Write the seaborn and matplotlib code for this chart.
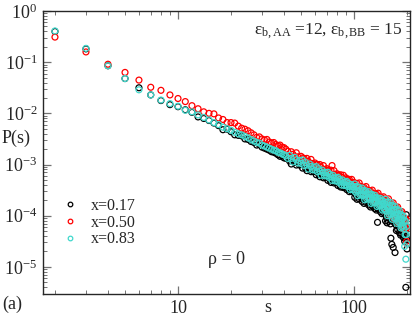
import numpy as np
import pandas as pd
import matplotlib
matplotlib.use("Agg")
import matplotlib.pyplot as plt
import matplotlib.ticker as mticker
from matplotlib.lines import Line2D
import seaborn as sns

# cluster size s
s_vals = list(range(2, 201))

# log10 P(s), s = 2..200
logp_017 = [
    -0.40, -0.74, -1.07, -1.32, -1.50, -1.64, -1.75, -1.83, -1.87, -1.93,
    -1.98, -2.07, -2.10, -2.14, -2.19, -2.24, -2.32, -2.31, -2.36, -2.42,
    -2.43, -2.44, -2.50, -2.51, -2.55, -2.57, -2.62, -2.61, -2.66, -2.68,
    -2.70, -2.72, -2.75, -2.76, -2.78, -2.81, -2.84, -2.83, -2.87, -2.88,
    -2.85, -2.93, -2.99, -2.91, -2.96, -3.01, -2.92, -3.01, -2.99, -3.07,
    -2.99, -3.07, -3.12, -3.05, -3.09, -3.14, -3.05, -3.14, -3.12, -3.20,
    -3.11, -3.19, -3.24, -3.17, -3.21, -3.26, -3.17, -3.25, -3.23, -3.31,
    -3.22, -3.30, -3.35, -3.27, -3.31, -3.36, -3.27, -3.35, -3.33, -3.41,
    -3.32, -3.40, -3.44, -3.36, -3.40, -3.45, -3.36, -3.43, -3.41, -3.49,
    -3.40, -3.48, -3.53, -3.45, -3.49, -3.53, -3.44, -3.52, -3.52, -3.64,
    -3.49, -3.60, -3.68, -3.54, -3.60, -3.67, -3.51, -3.64, -3.60, -3.72,
    -3.56, -3.68, -3.76, -3.62, -3.67, -3.74, -3.59, -3.71, -3.67, -3.79,
    -3.63, -3.75, -3.83, -3.69, -3.74, -3.81, -3.66, -3.78, -3.74, -3.86,
    -3.70, -3.82, -3.89, -3.75, -4.13, -3.87, -3.72, -3.84, -3.80, -3.92,
    -3.76, -3.88, -3.96, -3.82, -3.87, -3.94, -3.79, -3.91, -3.92, -4.10,
    -3.86, -4.04, -4.14, -3.93, -4.01, -4.11, -3.87, -4.05, -3.98, -4.16,
    -4.44, -4.10, -4.56, -4.00, -4.08, -4.62, -3.94, -4.13, -4.06, -4.72,
    -4.00, -4.18, -4.29, -4.08, -4.16, -4.27, -4.02, -4.21, -4.14, -4.33,
    -4.09, -4.27, -4.38, -4.17, -4.25, -4.36, -4.12, -4.31, -4.24, -4.43,
    -4.20, -4.39, -4.50, -4.30, -4.39, -5.40, -3.98, -4.46, -4.65,
]

logp_050 = [
    -0.51, -0.80, -1.04, -1.20, -1.35, -1.49, -1.55, -1.64, -1.71, -1.77,
    -1.85, -1.91, -1.97, -2.00, -2.01, -2.09, -2.12, -2.18, -2.18, -2.19,
    -2.25, -2.29, -2.31, -2.34, -2.38, -2.42, -2.47, -2.46, -2.50, -2.52,
    -2.51, -2.56, -2.58, -2.57, -2.61, -2.63, -2.62, -2.66, -2.67, -2.70,
    -2.74, -2.82, -2.75, -2.80, -2.85, -2.77, -2.85, -2.92, -2.84, -2.87,
    -2.88, -2.96, -2.88, -2.94, -2.98, -2.90, -2.98, -3.05, -2.97, -3.00,
    -3.00, -3.08, -3.00, -3.06, -3.10, -3.02, -3.10, -3.16, -3.08, -3.11,
    -3.11, -3.19, -3.11, -3.02, -3.20, -3.12, -3.20, -3.26, -3.18, -3.21,
    -3.21, -3.29, -3.20, -3.25, -3.29, -3.21, -3.29, -3.34, -3.26, -3.29,
    -3.29, -3.37, -3.29, -3.34, -3.38, -3.29, -3.37, -3.43, -3.35, -3.39,
    -3.39, -3.50, -3.37, -3.44, -3.50, -3.36, -3.48, -3.57, -3.43, -3.47,
    -3.46, -3.58, -3.45, -3.52, -3.57, -3.43, -3.56, -3.64, -3.50, -3.54,
    -3.53, -3.65, -3.52, -3.59, -3.64, -3.50, -3.63, -3.71, -3.57, -3.61,
    -3.60, -3.72, -3.58, -3.65, -3.71, -3.56, -3.69, -3.77, -3.63, -3.67,
    -3.66, -3.78, -3.65, -3.72, -3.77, -3.63, -3.76, -3.84, -3.71, -3.76,
    -3.74, -3.92, -3.70, -3.81, -3.89, -3.67, -3.85, -3.98, -3.77, -3.82,
    -3.81, -3.99, -3.77, -3.88, -3.96, -3.75, -3.93, -4.06, -3.85, -3.90,
    -3.89, -4.07, -3.85, -3.96, -4.04, -3.83, -4.01, -4.14, -3.93, -3.99,
    -3.97, -4.16, -3.94, -4.05, -4.14, -3.92, -4.11, -4.24, -4.03, -4.09,
    -4.08, -4.27, -4.06, -4.18, -4.27, -4.06, -4.25, -4.50, -4.55,
]

logp_083 = [
    -0.39, -0.73, -1.07, -1.32, -1.54, -1.64, -1.74, -1.81, -1.86, -1.94,
    -1.97, -2.03, -2.08, -2.13, -2.18, -2.22, -2.27, -2.30, -2.33, -2.37,
    -2.40, -2.42, -2.45, -2.48, -2.51, -2.54, -2.57, -2.58, -2.62, -2.64,
    -2.66, -2.68, -2.70, -2.72, -2.73, -2.76, -2.77, -2.79, -2.81, -2.83,
    -2.88, -2.82, -2.88, -2.95, -2.86, -2.91, -2.97, -2.92, -2.98, -2.91,
    -3.02, -2.96, -3.01, -3.09, -2.99, -3.04, -3.10, -3.05, -3.11, -3.04,
    -3.14, -3.08, -3.13, -3.21, -3.11, -3.16, -3.22, -3.16, -3.22, -3.15,
    -3.25, -3.19, -3.24, -3.31, -3.21, -3.26, -3.32, -3.26, -3.32, -3.25,
    -3.35, -3.29, -3.33, -3.40, -3.30, -3.35, -3.41, -3.34, -3.40, -3.33,
    -3.43, -3.37, -3.42, -3.49, -3.39, -3.43, -3.49, -3.43, -3.50, -3.38,
    -3.54, -3.43, -3.50, -3.61, -3.44, -3.51, -3.59, -3.49, -3.58, -3.46,
    -3.61, -3.51, -3.58, -3.69, -3.51, -3.58, -3.67, -3.56, -3.65, -3.53,
    -3.68, -3.58, -3.65, -3.76, -3.58, -3.65, -3.74, -3.63, -3.72, -3.60,
    -3.75, -3.65, -3.71, -3.82, -3.65, -3.71, -3.80, -3.69, -3.78, -3.66,
    -3.81, -3.71, -3.78, -3.89, -3.71, -3.78, -3.87, -3.76, -3.87, -3.68,
    -3.91, -3.74, -3.84, -4.00, -3.73, -3.84, -3.97, -3.80, -3.93, -3.74,
    -3.97, -3.80, -3.91, -4.07, -3.80, -3.91, -4.04, -3.88, -4.01, -3.82,
    -4.05, -3.88, -3.99, -4.15, -3.88, -3.99, -4.12, -3.96, -4.09, -3.90,
    -4.14, -3.97, -4.08, -4.24, -3.98, -4.09, -4.22, -4.06, -4.19, -4.01,
    -4.25, -4.09, -4.60, -4.37, -4.11, -4.85, -4.37, -4.21, -4.55,
]

series_labels = ["x=0.17", "x=0.50", "x=0.83"]
series_colors = ["#000000", "#ff0000", "#40d8cc"]
series_logp = [logp_017, logp_050, logp_083]

sns.set_style("ticks")
plt.rcParams["font.family"] = ["Liberation Serif", "DejaVu Serif"]
plt.rcParams["mathtext.fontset"] = "custom"
plt.rcParams["mathtext.rm"] = "Liberation Serif"
plt.rcParams["mathtext.it"] = "Liberation Serif:italic"
plt.rcParams["mathtext.bf"] = "Liberation Serif:bold"
plt.rcParams["axes.unicode_minus"] = False

fig = plt.figure(figsize=(4.15, 3.17), dpi=100)
ax = fig.add_axes([43 / 415, 1 - 294 / 317, (410 - 43) / 415, (294 - 11) / 317])

frames = []
for lab, lp in zip(series_labels, series_logp):
    frames.append(pd.DataFrame({"s": s_vals, "P": np.power(10.0, lp), "x": lab}))
df = pd.concat(frames, ignore_index=True)

for lab, col in zip(series_labels, series_colors):
    sub = df[df["x"] == lab]
    sns.scatterplot(data=sub, x="s", y="P", ax=ax, marker="o", s=18,
                    facecolor="none", edgecolor=col, linewidth=0.9,
                    legend=False, zorder=3)

ax.set_xscale("log")
ax.set_yscale("log")
ax.set_xlim(1.71, 208)
ax.set_ylim(10 ** -5.53, 1.0)
ax.set_xlabel("")
ax.set_ylabel("")

ax.xaxis.set_major_locator(mticker.FixedLocator([10, 100]))
ax.xaxis.set_major_formatter(mticker.FuncFormatter(lambda v, p: f"{int(round(v))}"))
ax.xaxis.set_minor_locator(mticker.LogLocator(base=10, subs=np.arange(2, 10), numticks=20))
ax.xaxis.set_minor_formatter(mticker.NullFormatter())
ax.yaxis.set_major_locator(mticker.LogLocator(base=10, numticks=20))
ax.yaxis.set_major_formatter(mticker.LogFormatterSciNotation())
ax.yaxis.set_minor_locator(mticker.LogLocator(base=10, subs=np.arange(2, 10), numticks=20))
ax.yaxis.set_minor_formatter(mticker.NullFormatter())

ax.tick_params(which="both", direction="in", top=True, right=True, color="0.45")
ax.tick_params(which="major", length=6, width=0.9, labelsize=13, pad=4)
ax.tick_params(which="minor", length=3, width=0.7)
for sp in ax.spines.values():
    sp.set_color("0.15")
    sp.set_linewidth(1.0)

handles = [Line2D([], [], linestyle="none", marker="o", markersize=3.3,
                  markerfacecolor="none", markeredgecolor=c, markeredgewidth=0.9)
           for c in series_colors]
ax.legend(handles, series_labels, loc="upper left", bbox_to_anchor=(0.057, 0.34),
          frameon=False, fontsize=11.5, handlelength=0.8, handletextpad=0.9,
          labelspacing=0.05, borderaxespad=0, borderpad=0)

fig.text(2 / 415, 1 - 138 / 317, "P(s)", ha="left", va="center", fontsize=13)
fig.text(268 / 415, 1 - 307 / 317, "s", ha="center", va="center", fontsize=13)
fig.text(2 / 415, 1 - 304 / 317, "(a)", ha="left", va="center", fontsize=13)
fig.text(403 / 415, 1 - 31 / 317,
         r"$\mathrm{ε}_{\mathrm{b,AA}}$ =12, $\mathrm{ε}_{\mathrm{b,BB}}$ = 15",
         ha="right", va="center", fontsize=12.5)
fig.text(208 / 415, 1 - 260 / 317, "ρ = 0", ha="left", va="center", fontsize=13)

fig.savefig("out.png", dpi=100)
